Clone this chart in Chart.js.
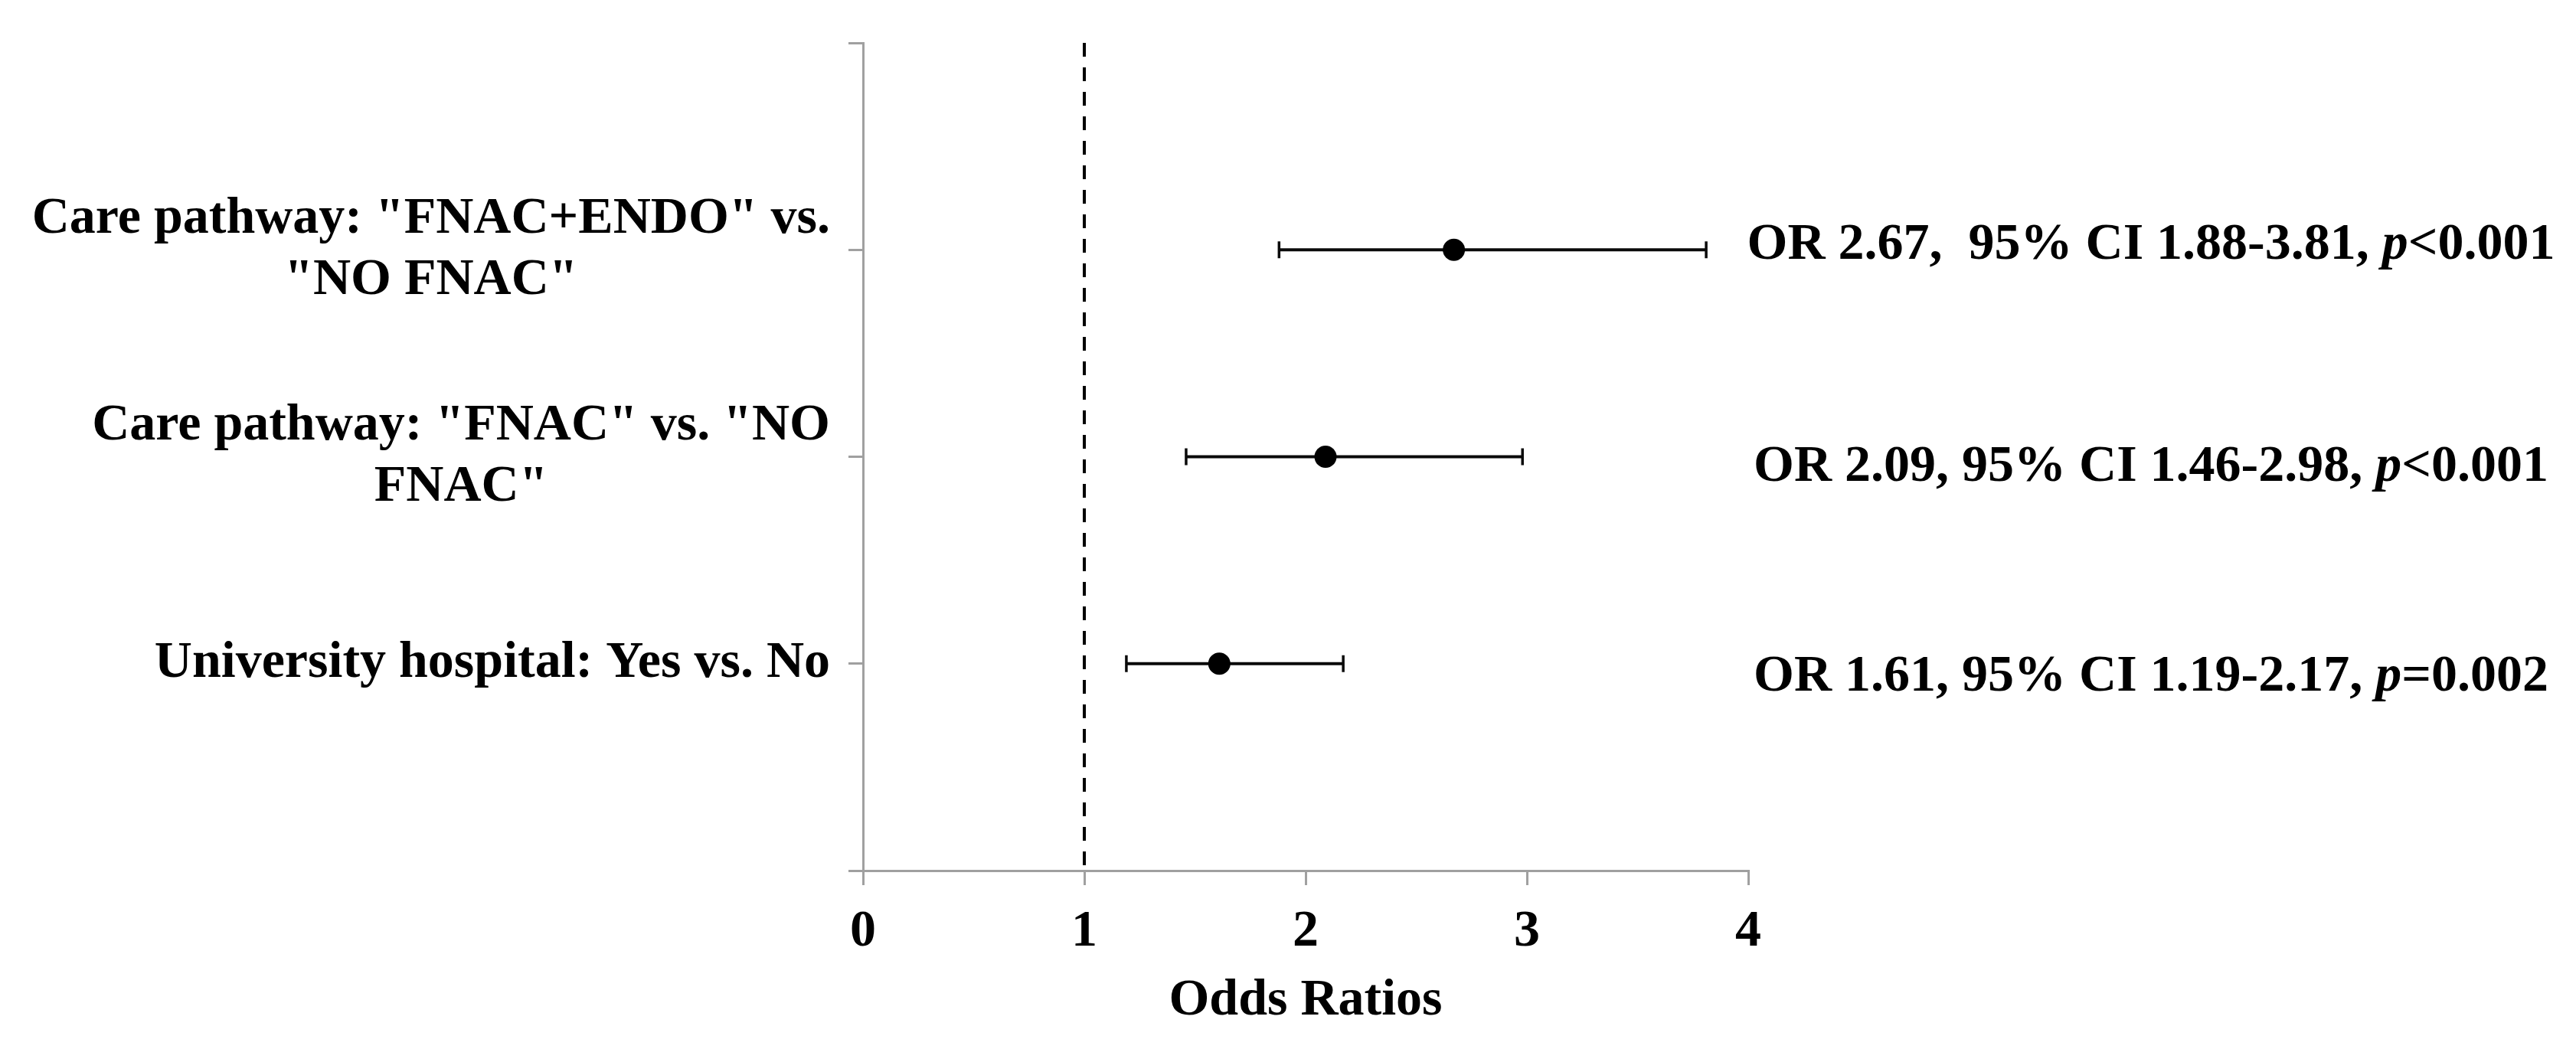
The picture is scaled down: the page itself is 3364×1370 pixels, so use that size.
<!DOCTYPE html>
<html>
<head>
<meta charset="utf-8">
<script src="https://cdn.jsdelivr.net/npm/chart.js@4.4.1/dist/chart.umd.min.js"></script>
<style>
  html, body { margin: 0; padding: 0; background: #fff; }
  canvas { display: block; }
</style>
</head>
<body>
<canvas id="forest" width="3364" height="1370"></canvas>
<script>
// -----------------------------------------------------------------------------
// DATA
// -----------------------------------------------------------------------------
const rowLabels = [
  ['Care pathway: "FNAC+ENDO" vs.', '"NO FNAC"'],
  ['Care pathway: "FNAC" vs. "NO', 'FNAC"'],
  ['University hospital: Yes vs. No']
];
const rowPos = [1, 2, 3];
const oddsRatio = [2.67, 2.09, 1.61];
const ciLow = [1.88, 1.46, 1.19];
const ciHigh = [3.81, 2.98, 2.17];
const noteText = [
  'OR 2.67,  95% CI 1.88-3.81, ',
  'OR 2.09, 95% CI 1.46-2.98, ',
  'OR 1.61, 95% CI 1.19-2.17, '
];
const pText = ['<0.001', '<0.001', '=0.002'];
const xTicks = [0, 1, 2, 3, 4];
const refLine = 1;

// -----------------------------------------------------------------------------
// STYLE
// -----------------------------------------------------------------------------
const FONT = '"Liberation Serif", "Times New Roman", serif';
const AXIS_GREY = '#a0a0a0';
const noteShift = [-6, 14, 18];

// -----------------------------------------------------------------------------
// ROW LABELS + OR NOTES (drawn on the y scale positions)
// -----------------------------------------------------------------------------
const rowTextPlugin = {
  id: 'rowText',
  afterDraw(chart) {
    const { ctx, chartArea } = chart;
    const y = chart.scales.y;
    ctx.save();
    ctx.fillStyle = '#000';
    ctx.textBaseline = 'middle';
    ctx.font = 'bold 68px ' + FONT;

    // left labels: block right-aligned, lines centred inside the block
    rowLabels.forEach((lines, i) => {
      const yc = y.getPixelForValue(rowPos[i]);
      const w = Math.max(...lines.map(l => ctx.measureText(l).width));
      const cx = chartArea.left - 43 - w / 2;
      ctx.textAlign = 'center';
      lines.forEach((line, j) => {
        ctx.fillText(line, cx, yc + (j - (lines.length - 1) / 2) * 80);
      });
    });

    // right notes with italic p
    ctx.textAlign = 'left';
    noteText.forEach((txt, i) => {
      const yc = y.getPixelForValue(rowPos[i]) + noteShift[i];
      ctx.font = 'bold 68px ' + FONT;
      const w1 = ctx.measureText(txt).width;
      const w3 = ctx.measureText(pText[i]).width;
      ctx.font = 'italic bold 68px ' + FONT;
      const w2 = ctx.measureText('p').width;
      let x = chartArea.right + 526 - (w1 + w2 + w3) / 2;
      ctx.font = 'bold 68px ' + FONT;
      ctx.fillText(txt, x, yc);
      x += w1;
      ctx.font = 'italic bold 68px ' + FONT;
      ctx.fillText('p', x, yc);
      x += w2;
      ctx.font = 'bold 68px ' + FONT;
      ctx.fillText(pText[i], x, yc);
    });
    ctx.restore();
  }
};

// -----------------------------------------------------------------------------
// DATASETS
// -----------------------------------------------------------------------------
const pointSet = {
  label: 'OR',
  type: 'scatter',
  data: oddsRatio.map((v, i) => ({ x: v, y: rowPos[i] })),
  pointStyle: 'circle',
  pointRadius: 14.5,
  backgroundColor: '#000',
  borderColor: '#000',
  borderWidth: 0
};

const ciSets = rowPos.map((r, i) => ({
  label: 'CI ' + (i + 1),
  type: 'line',
  data: [{ x: ciLow[i], y: r }, { x: ciHigh[i], y: r }],
  borderColor: '#0a0a0a',
  borderWidth: 4,
  pointStyle: 'line',
  rotation: 90,
  pointRadius: 11,
  pointBorderWidth: 3.5,
  pointBorderColor: '#0a0a0a',
  fill: false
}));

const refSet = {
  label: 'ref',
  type: 'line',
  data: [{ x: refLine, y: 0 }, { x: refLine, y: 4 }],
  borderColor: '#000',
  borderWidth: 4,
  borderDash: [18, 14],
  pointRadius: 0,
  fill: false
};

// -----------------------------------------------------------------------------
// CHART
// -----------------------------------------------------------------------------
Chart.defaults.font.family = FONT;

new Chart(document.getElementById('forest'), {
  type: 'scatter',
  data: { datasets: [pointSet, ...ciSets, refSet] },
  options: {
    responsive: false,
    devicePixelRatio: 1,
    animation: false,
    layout: { padding: { top: 56, right: 1081, bottom: 0, left: 0 } },
    plugins: { legend: { display: false }, tooltip: { enabled: false } },
    scales: {
      x: {
        type: 'linear',
        min: xTicks[0],
        max: xTicks[xTicks.length - 1],
        afterBuildTicks: axis => { axis.ticks = xTicks.map(v => ({ value: v })); },
        afterFit: axis => { axis.height = 1370 - 1137; },
        grid: { drawOnChartArea: false, drawTicks: true, tickLength: 19, color: AXIS_GREY, lineWidth: 3 },
        border: { color: AXIS_GREY, width: 3 },
        ticks: { color: '#000', padding: 21, font: { size: 68, weight: 'bold' } },
        title: {
          display: true,
          text: 'Odds Ratios',
          color: '#000',
          font: { size: 68, weight: 'bold' },
          padding: { top: 0, bottom: 22 }
        }
      },
      y: {
        type: 'linear',
        min: 0,
        max: 4,
        reverse: true,
        afterBuildTicks: axis => { axis.ticks = [0, 1, 2, 3, 4].map(v => ({ value: v })); },
        afterFit: axis => { axis.width = 1127; },
        grid: { drawOnChartArea: false, drawTicks: true, tickLength: 19, color: AXIS_GREY, lineWidth: 3 },
        border: { color: AXIS_GREY, width: 3 },
        ticks: { display: false }
      }
    }
  },
  plugins: [rowTextPlugin]
});
</script>
</body>
</html>
